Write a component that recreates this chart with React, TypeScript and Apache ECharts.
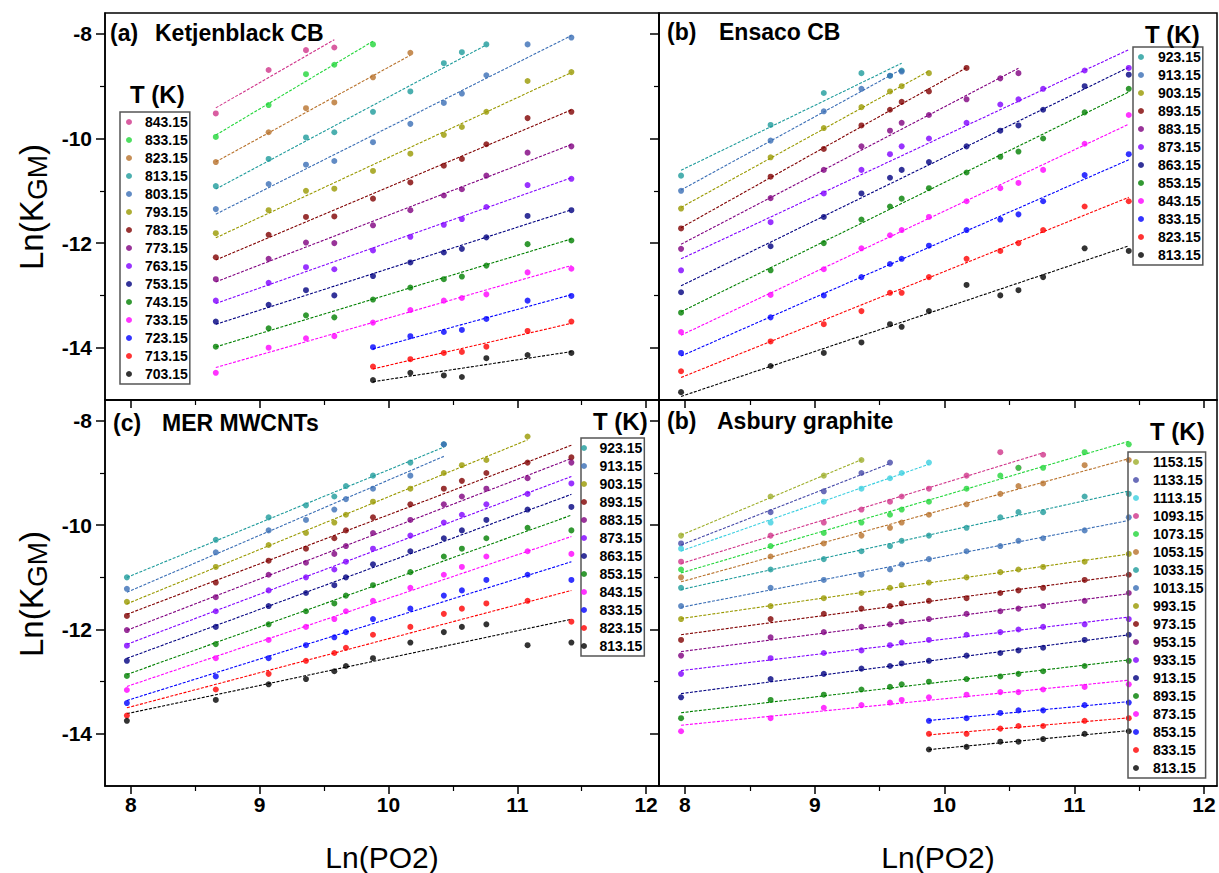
import React, { useEffect, useRef } from "react";
import * as echarts from "echarts";

const FONT = "Liberation Sans, Arial, sans-serif";

// colours (Origin-like palette)
const BLACK = "#000000", RED = "#FF0000", BLUE = "#0000FF", MAGENTA = "#FF00FF", GREEN = "#008000";
const NAVY = "#000080", VIOLET = "#8000FF", PURPLE = "#800080", WINE = "#800000", OLIVE = "#999900";
const ROYAL = "#3A6EB5", DCYAN = "#1E9B9B", ORANGE = "#B8722C", LIME = "#22D63A", PINK = "#D0348A";
const CYAN = "#3CCFE0", SLATE = "#4549A8", YGREEN = "#9DAE2A";

// ---------- panel (a) Ketjenblack CB ----------
const A_X = [8.66, 9.07, 9.36, 9.58, 9.88, 10.17, 10.43, 10.57, 10.76, 11.08, 11.42];
const A_T = ["843.15", "833.15", "823.15", "813.15", "803.15", "793.15", "783.15", "773.15", "763.15", "753.15", "743.15", "733.15", "723.15", "713.15", "703.15"];
const A_C = [PINK, LIME, ORANGE, DCYAN, ROYAL, OLIVE, WINE, PURPLE, VIOLET, NAVY, GREEN, MAGENTA, BLUE, RED, BLACK];
const A_START = [0, 0, 0, 0, 0, 0, 0, 0, 0, 0, 0, 0, 4, 4, 4];
const A_Y = [
  [-9.52, -8.69, -8.31, -8.26],
  [-9.97, -9.36, -8.77, -8.59, -8.20],
  [-10.45, -9.88, -9.42, -9.31, -8.83, -8.36],
  [-10.91, -10.39, -9.98, -9.88, -9.49, -9.10, -8.56, -8.35, -8.20],
  [-11.35, -10.87, -10.50, -10.43, -10.07, -9.72, -9.32, -9.14, -8.79, -8.20, -8.07],
  [-11.81, -11.37, -11.00, -10.96, -10.62, -10.29, -9.93, -9.78, -9.49, -8.90, -8.73],
  [-12.27, -11.84, -11.50, -11.49, -11.15, -10.84, -10.52, -10.39, -10.11, -9.61, -9.49],
  [-12.69, -12.30, -11.99, -12.00, -11.66, -11.37, -11.09, -10.97, -10.71, -10.27, -10.15],
  [-13.10, -12.76, -12.46, -12.50, -12.14, -11.88, -11.65, -11.54, -11.31, -10.89, -10.77],
  [-13.50, -13.18, -12.90, -13.00, -12.63, -12.37, -12.18, -12.11, -11.89, -11.48, -11.37],
  [-13.98, -13.63, -13.38, -13.42, -13.08, -12.85, -12.69, -12.64, -12.43, -12.02, -11.95],
  [-14.48, -14.00, -13.82, -13.78, -13.52, -13.28, -13.10, -13.05, -12.98, -12.56, -12.49],
  [-13.99, -13.78, -13.70, -13.66, -13.45, -13.10, -13.01],
  [-14.36, -14.22, -14.10, -14.08, -13.98, -13.68, -13.50],
  [-14.62, -14.48, -14.53, -14.56, -14.20, -14.14, -14.10],
];

// ---------- panel (b) Ensaco CB ----------
const B_X = [7.97, 8.66, 9.07, 9.36, 9.58, 9.67, 9.88, 10.17, 10.43, 10.57, 10.76, 11.08, 11.42];
const B_T = ["923.15", "913.15", "903.15", "893.15", "883.15", "873.15", "863.15", "853.15", "843.15", "833.15", "823.15", "813.15"];
const B_C = [DCYAN, ROYAL, OLIVE, WINE, PURPLE, VIOLET, NAVY, GREEN, MAGENTA, BLUE, RED, BLACK];
const B_START = [0, 0, 0, 0, 0, 0, 0, 0, 0, 0, 0, 0];
const B_Y = [
  [-10.71, -9.74, -9.13, -8.75, -8.80, -8.70],
  [-11.00, -10.04, -9.48, -9.05, -8.80, -8.72],
  [-11.34, -10.36, -9.80, -9.40, -9.10, -9.00, -8.75],
  [-11.72, -10.73, -10.20, -9.75, -9.45, -9.30, -9.10, -8.65],
  [-12.11, -11.14, -10.60, -10.15, -9.85, -9.70, -9.55, -9.25, -8.85, -8.75],
  [-12.52, -11.60, -11.05, -10.60, -10.30, -10.15, -10.00, -9.70, -9.35, -9.25, -9.05, -8.70, -8.65],
  [-12.94, -12.06, -11.50, -11.05, -10.75, -10.60, -10.45, -10.15, -9.85, -9.75, -9.45, -9.00, -8.78],
  [-13.33, -12.52, -12.00, -11.55, -11.30, -11.15, -10.95, -10.65, -10.35, -10.25, -10.00, -9.50, -9.05],
  [-13.70, -12.99, -12.50, -12.10, -11.85, -11.75, -11.50, -11.20, -10.95, -10.85, -10.60, -10.10, -9.55],
  [-14.10, -13.42, -13.00, -12.65, -12.40, -12.30, -12.05, -11.75, -11.55, -11.45, -11.20, -10.70, -10.30],
  [-14.45, -13.88, -13.55, -13.30, -12.95, -12.95, -12.65, -12.30, -12.15, -12.00, -11.75, -11.30, -11.20],
  [-14.85, -14.35, -14.10, -13.90, -13.55, -13.60, -13.30, -12.80, -13.00, -12.90, -12.65, -12.10, -12.15],
];

// ---------- panel (c) MER MWCNTs ----------
const C_X = [7.97, 8.66, 9.07, 9.36, 9.58, 9.67, 9.88, 10.17, 10.43, 10.57, 10.76, 11.08, 11.42];
const C_T = ["923.15", "913.15", "903.15", "893.15", "883.15", "873.15", "863.15", "853.15", "843.15", "833.15", "823.15", "813.15"];
const C_C = [DCYAN, ROYAL, OLIVE, WINE, PURPLE, VIOLET, NAVY, GREEN, MAGENTA, BLUE, RED, BLACK];
const C_START = [0, 0, 0, 0, 0, 0, 0, 0, 0, 0, 0, 0];
const C_Y = [
  [-11.00, -10.28, -9.85, -9.62, -9.45, -9.25, -9.05, -8.80, -8.45],
  [-11.22, -10.52, -10.10, -9.90, -9.70, -9.50, -9.30, -9.05, -8.45],
  [-11.47, -10.80, -10.38, -10.15, -9.95, -9.80, -9.55, -9.30, -9.00, -8.85, -8.75, -8.30],
  [-11.74, -11.10, -10.68, -10.45, -10.25, -10.10, -9.85, -9.60, -9.30, -9.15, -9.00, -8.80, -8.70],
  [-12.01, -11.38, -10.95, -10.72, -10.55, -10.40, -10.15, -9.90, -9.60, -9.45, -9.30, -9.10, -8.80],
  [-12.31, -11.65, -11.25, -11.00, -10.85, -10.70, -10.45, -10.20, -9.95, -9.80, -9.60, -9.40, -9.20],
  [-12.60, -11.95, -11.55, -11.30, -11.15, -11.00, -10.75, -10.50, -10.25, -10.10, -9.90, -9.70, -9.65],
  [-12.89, -12.28, -11.90, -11.65, -11.50, -11.35, -11.15, -10.90, -10.60, -10.45, -10.25, -10.05, -10.10],
  [-13.16, -12.55, -12.20, -11.95, -11.80, -11.65, -11.45, -11.20, -10.95, -10.80, -10.60, -10.50, -10.55],
  [-13.41, -12.90, -12.55, -12.30, -12.15, -12.05, -11.80, -11.60, -11.35, -11.25, -11.05, -10.95, -11.05],
  [-13.65, -13.15, -12.85, -12.60, -12.45, -12.35, -12.10, -11.95, -11.70, -11.60, -11.50, -11.45, -11.85],
  [-13.75, -13.35, -13.05, -12.95, -12.80, -12.70, -12.55, -12.25, -12.05, -11.95, -11.90, -12.30, -12.25],
];

// ---------- panel (d) Asbury graphite ----------
const D_X = [7.97, 8.66, 9.07, 9.36, 9.58, 9.67, 9.88, 10.17, 10.43, 10.57, 10.76, 11.08, 11.42];
const D_T = ["1153.15", "1133.15", "1113.15", "1093.15", "1073.15", "1053.15", "1033.15", "1013.15", "993.15", "973.15", "953.15", "933.15", "913.15", "893.15", "873.15", "853.15", "833.15", "813.15"];
const D_C = [YGREEN, SLATE, CYAN, PINK, LIME, ORANGE, DCYAN, ROYAL, OLIVE, WINE, PURPLE, VIOLET, NAVY, GREEN, MAGENTA, BLUE, RED, BLACK];
const D_START = [0, 0, 0, 0, 0, 0, 0, 0, 0, 0, 0, 0, 0, 0, 0, 6, 6, 6];
const D_Y = [
  [-10.20, -9.45, -9.05, -8.75],
  [-10.35, -9.75, -9.35, -9.00, -8.80],
  [-10.45, -9.95, -9.55, -9.30, -9.10, -9.00, -8.80],
  [-10.70, -10.20, -9.95, -9.70, -9.55, -9.45, -9.30, -9.05, -8.60, -8.90, -8.65],
  [-10.85, -10.40, -10.15, -9.95, -9.80, -9.70, -9.55, -9.30, -9.05, -8.90, -8.90, -8.60, -8.45],
  [-11.00, -10.60, -10.35, -10.20, -10.05, -9.95, -9.80, -9.60, -9.40, -9.25, -9.20, -8.85, -8.75],
  [-11.20, -10.85, -10.65, -10.50, -10.40, -10.30, -10.20, -10.05, -9.85, -9.75, -9.75, -9.45, -9.40],
  [-11.55, -11.20, -11.05, -10.95, -10.85, -10.75, -10.65, -10.50, -10.40, -10.30, -10.25, -10.10, -9.85],
  [-11.80, -11.55, -11.40, -11.30, -11.20, -11.15, -11.10, -11.00, -10.90, -10.85, -10.80, -10.70, -10.55],
  [-12.20, -11.80, -11.70, -11.60, -11.55, -11.50, -11.45, -11.40, -11.30, -11.25, -11.20, -11.05, -10.95],
  [-12.50, -12.15, -12.05, -11.95, -11.90, -11.85, -11.80, -11.70, -11.65, -11.60, -11.55, -11.45, -11.30],
  [-12.85, -12.55, -12.45, -12.40, -12.30, -12.25, -12.20, -12.10, -12.05, -12.00, -11.95, -11.90, -11.80],
  [-13.30, -12.95, -12.85, -12.75, -12.70, -12.65, -12.60, -12.50, -12.45, -12.40, -12.35, -12.20, -12.10],
  [-13.70, -13.35, -13.25, -13.15, -13.10, -13.05, -13.00, -12.95, -12.90, -12.85, -12.80, -12.70, -12.60],
  [-13.95, -13.70, -13.50, -13.45, -13.40, -13.35, -13.30, -13.25, -13.20, -13.20, -13.15, -13.10, -13.05],
  [-13.75, -13.70, -13.60, -13.55, -13.55, -13.45, -13.40],
  [-14.00, -14.00, -13.90, -13.85, -13.85, -13.75, -13.70],
  [-14.30, -14.25, -14.15, -14.15, -14.10, -14.00, -13.95],
];

// axis tick values
const X_MAJOR = [8, 9, 10, 11, 12];
const X_MINOR = [8.5, 9.5, 10.5, 11.5];
const Y_MAJOR = [-8, -10, -12, -14];
const Y_MINOR = [-9, -11, -13];

const GRIDS = [
  { left: 105, top: 13, width: 554, height: 387 },
  { left: 659, top: 13, width: 558, height: 387 },
  { left: 105, top: 400, width: 554, height: 387 },
  { left: 659, top: 400, width: 558, height: 387 },
];

const PANELS = [
  { X: A_X, T: A_T, C: A_C, S: A_START, Y: A_Y },
  { X: B_X, T: B_T, C: B_C, S: B_START, Y: B_Y },
  { X: C_X, T: C_T, C: C_C, S: C_START, Y: C_Y },
  { X: D_X, T: D_T, C: D_C, S: D_START, Y: D_Y },
];

const LEGENDS = [
  { left: 120, top: 112, w: 22, pad: 6 },
  { left: 1133, top: 47, w: 24, pad: 5 },
  { left: 581, top: 438, w: 21, pad: 0 },
  { left: 1128, top: 452, w: 24, pad: 5 },
];

function fit(pts: number[][]) {
  const n = pts.length;
  let sx = 0, sy = 0, sxx = 0, sxy = 0;
  pts.forEach(([x, y]) => { sx += x; sy += y; sxx += x * x; sxy += x * y; });
  const b = (n * sxy - sx * sy) / (n * sxx - sx * sx);
  const a = (sy - b * sx) / n;
  const x0 = pts[0][0], x1 = pts[n - 1][0];
  return [[x0, a + b * x0], [x1, a + b * x1]];
}

function buildOption() {
  const series: any[] = [];
  const legends: any[] = [];
  const xAxis: any[] = [];
  const yAxis: any[] = [];
  PANELS.forEach((P, p) => {
    const suffix = "\u200b".repeat(p);
    const bottom = p >= 2;
    const left = p % 2 === 0;
    xAxis.push({
      type: "value", gridIndex: p, min: 7.8, max: 12.1, position: "bottom",
      axisLine: { show: true, lineStyle: { color: "#000", width: 1.5 } },
      axisTick: { show: true, customValues: X_MAJOR, length: 8, lineStyle: { color: "#000", width: 1.5 } },
      axisLabel: bottom
        ? { show: true, customValues: X_MAJOR, fontSize: 21, fontWeight: "bold", color: "#000", fontFamily: FONT, margin: 8 }
        : { show: false },
      splitLine: { show: false },
      name: bottom ? "Ln(PO2)" : "",
      nameLocation: "middle",
      nameGap: 56,
      nameTextStyle: { fontSize: 30, fontFamily: FONT, color: "#000" },
    });
    xAxis.push({
      type: "value", gridIndex: p, min: 7.8, max: 12.1, position: "bottom",
      axisLine: { show: false },
      axisTick: { show: true, customValues: X_MINOR, length: 5, lineStyle: { color: "#000", width: 1.2 } },
      axisLabel: { show: false },
      splitLine: { show: false },
    });
    yAxis.push({
      type: "value", gridIndex: p, min: -15, max: -7.6, position: "left",
      axisLine: { show: true, lineStyle: { color: "#000", width: 1.5 } },
      axisTick: { show: true, customValues: Y_MAJOR, length: 9, lineStyle: { color: "#000", width: 1.5 } },
      axisLabel: left
        ? { show: true, customValues: Y_MAJOR, fontSize: 21, fontWeight: "bold", color: "#000", fontFamily: FONT, margin: 13 }
        : { show: false },
      splitLine: { show: false },
    });
    yAxis.push({
      type: "value", gridIndex: p, min: -15, max: -7.6, position: "left",
      axisLine: { show: false },
      axisTick: { show: true, customValues: Y_MINOR, length: 5, lineStyle: { color: "#000", width: 1.2 } },
      axisLabel: { show: false },
      splitLine: { show: false },
    });

    const names: string[] = [];
    P.T.forEach((t, i) => {
      const name = t + suffix;
      names.push(name);
      const pts = P.Y[i].map((v, j) => [P.X[P.S[i] + j], v]);
      series.push({
        type: "line",
        name: "fit-" + name,
        xAxisIndex: p * 2,
        yAxisIndex: p * 2,
        data: fit(pts),
        showSymbol: false,
        symbol: "none",
        lineStyle: { color: P.C[i], width: 1.1, type: [3, 1.5] },
        silent: true,
        z: 2,
      });
      series.push({
        type: "scatter",
        name,
        xAxisIndex: p * 2,
        yAxisIndex: p * 2,
        data: pts,
        symbol: "circle",
        symbolSize: 6,
        itemStyle: { color: P.C[i] },
        z: 3,
      });
    });
    const L = LEGENDS[p];
    legends.push({
      show: true,
      data: names,
      orient: "vertical",
      left: L.left,
      top: L.top,
      icon: "circle",
      itemWidth: L.w,
      itemHeight: 6,
      itemGap: 0,
      padding: [1, 2, 1, L.pad],
      borderColor: "#555",
      borderWidth: 1.5,
      selectedMode: false,
      formatter: (n: string) => n.replace(/\u200b/g, ""),
      textStyle: { fontSize: 14, fontWeight: "bold", fontFamily: FONT, color: "#000", lineHeight: 18 },
    });
  });

  const txt = (text: string, x: number, y: number, size: number, bold = true) => ({
    type: "text",
    x, y,
    style: { text, fontSize: size, fontWeight: bold ? "bold" : "normal", fontFamily: FONT, fill: "#000", align: "left", verticalAlign: "middle" },
    z: 10,
  });

  const part = (text: string, x: number, y: number, size: number) => ({
    type: "text", x, y,
    style: { text, fontSize: size, fontFamily: FONT, fill: "#000", align: "left", verticalAlign: "middle" },
  });
  const ytitle = (cy: number) => ({
    type: "group",
    x: 31, y: cy,
    rotation: Math.PI / 2,
    z: 10,
    children: [
      part("Ln(K", -63, 0, 33),
      part("GM", 7, 6, 28),
      part(")", 52, 0, 33),
    ],
  });

  const graphic = [
    txt("(a)", 110, 33, 23), txt("Ketjenblack CB", 155, 33, 23),
    txt("(b)", 667, 32, 23), txt("Ensaco CB", 719, 32, 23),
    txt("(c)", 113, 423, 23), txt("MER MWCNTs", 162, 423, 23),
    txt("(b)", 667, 421, 23), txt("Asbury graphite", 717, 421, 23),
    txt("T (K)", 130, 94, 24), txt("T (K)", 1145, 34, 24),
    txt("T (K)", 593, 421, 24), txt("T (K)", 1150, 431, 24),
    ytitle(207), ytitle(594),
  ];

  return {
    animation: false,
    backgroundColor: "#ffffff",
    grid: GRIDS.map((g) => ({ ...g, show: true, borderColor: "#000", borderWidth: 1.5, backgroundColor: "transparent" })),
    xAxis,
    yAxis,
    legend: legends,
    series,
    graphic,
  };
}

export default function App() {
  const ref = useRef<HTMLDivElement>(null);
  useEffect(() => {
    if (!ref.current) return;
    const chart = echarts.init(ref.current, undefined, { renderer: "svg" });
    chart.setOption(buildOption() as any);
    return () => chart.dispose();
  }, []);
  return <div ref={ref} style={{ position: "fixed", left: 0, top: 0, width: 1219, height: 873, background: "#fff" }} />;
}
